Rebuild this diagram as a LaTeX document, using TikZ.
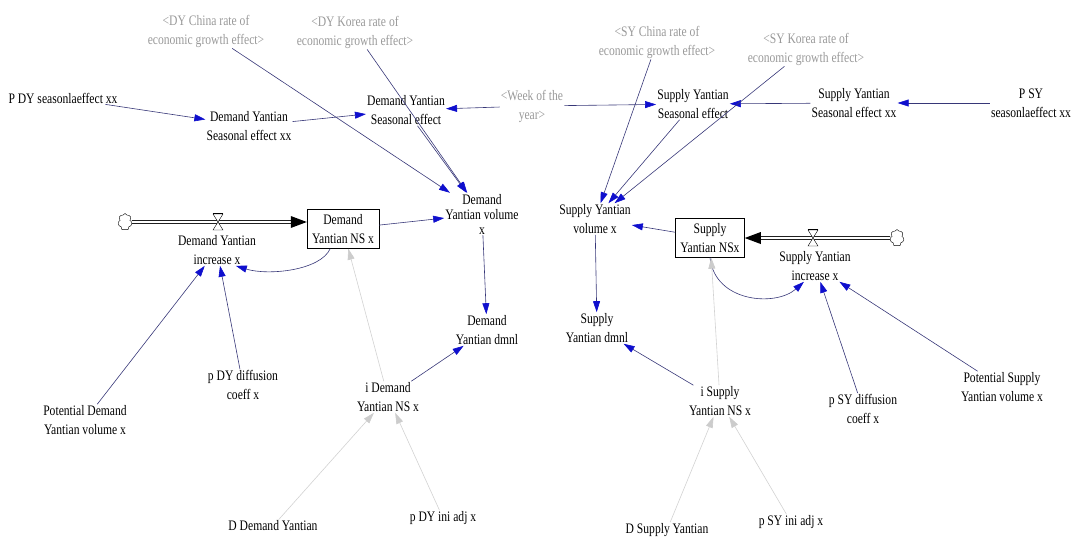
\documentclass[tikz,border=0pt]{standalone}
\usepackage{fontspec}
\setmainfont[FakeStretch=0.8]{Liberation Serif}
\usepackage{xcolor}
\usetikzlibrary{arrows.meta,shapes.symbols}

\definecolor{linkcol}{RGB}{55,55,120}
\definecolor{tipcol}{RGB}{15,15,205}

\begin{document}
\begin{tikzpicture}[x=1pt,y=-1pt,
    var/.style={align=center,inner sep=1pt,font=\fontsize{14.5}{19}\selectfont},
    shadowvar/.style={var,text=gray!80},
    stock/.style={var,draw,inner xsep=5pt,minimum height=39pt},
    link/.style={draw=linkcol,line width=0.6pt,-{Triangle[length=11pt,width=7pt,color=tipcol]}},
    glink/.style={draw=gray!35,line width=0.6pt,-{Triangle[length=11pt,width=7pt,color=gray!40]}},
    pipe/.style={double distance=2.4pt,line width=0.7pt},
    sink/.style={cloud,cloud puffs=7,aspect=0.8,draw,inner sep=0pt,minimum width=14pt,minimum height=17pt}]

    \useasboundingbox (0,0) rectangle (1077,538);

    % Shadow variables
    \node[shadowvar] (dychina) at (206,31) {<DY China rate of\\economic growth effect>};
    \node[shadowvar] (dykorea) at (355,32) {<DY Korea rate of\\economic growth effect>};
    \node[shadowvar] (week) at (532,106) {<Week of the\\year>};
    \node[shadowvar] (sychina) at (657,42) {<SY China rate of\\economic growth effect>};
    \node[shadowvar] (sykorea) at (806,49) {<SY Korea rate of\\economic growth effect>};

    % Demand side
    \node[var] (pdyseason) at (63,98) {P DY seasonlaeffect xx};
    \node[var] (dyseasonxx) at (249,126) {Demand Yantian\\Seasonal effect xx};
    \node[var] (dyseason) at (406,110) {Demand Yantian\\Seasonal effect};
    \node[var,font=\fontsize{14.5}{15}\selectfont] (dyvol) at (482,214) {Demand\\Yantian volume\\x};
    \node[stock] (dyns) at (343,229) {Demand\\Yantian NS x};
    \node[sink] (dycloud) at (125,222) {};
    \coordinate (dyvalve) at (218,222);
    \node[var] (dyflow) at (217,250) {Demand Yantian\\increase x};
    \node[var] (pdydiff) at (243,385) {p DY diffusion\\coeff x};
    \node[var] (potdy) at (85,420) {Potential Demand\\Yantian volume x};
    \node[var] (ddy) at (273,526) {D Demand Yantian};
    \node[var] (idy) at (388,397) {i Demand\\Yantian NS x};
    \node[var] (pdyini) at (443,518) {p DY ini adj x};
    \node[var] (dydmnl) at (487,330) {Demand\\Yantian dmnl};

    % Supply side
    \node[var] (syseason) at (693,104) {Supply Yantian\\Seasonal effect};
    \node[var] (syseasonxx) at (854,103) {Supply Yantian\\Seasonal effect xx};
    \node[var] (psyseason) at (1031,103) {P SY\\seasonlaeffect xx};
    \node[var] (syvol) at (595,219) {Supply Yantian\\volume x};
    \node[stock] (syns) at (710,238) {Supply\\Yantian NSx};
    \node[sink] (sycloud) at (897,238) {};
    \coordinate (syvalve) at (813,238);
    \node[var] (syflow) at (815,266) {Supply Yantian\\increase x};
    \node[var] (sydmnl) at (597,328) {Supply\\Yantian dmnl};
    \node[var] (isy) at (720,401) {i Supply\\Yantian NS x};
    \node[var] (dsy) at (667,530) {D Supply Yantian};
    \node[var] (psyini) at (791,522) {p SY ini adj x};
    \node[var] (psydiff) at (863,409) {p SY diffusion\\coeff x};
    \node[var] (potsy) at (1002,387) {Potential Supply\\Yantian volume x};

    % Flows
    \draw[pipe] (dycloud) -- ([xshift=-15pt]dycloud -| dyns.west);
    \fill (dycloud -| dyns.west) -- ++(-16,-6) -- ++(0,12) -- cycle;
    \draw[pipe] (sycloud) -- ([xshift=15pt]sycloud -| syns.east);
    \fill (sycloud -| syns.east) -- ++(16,-6) -- ++(0,12) -- cycle;

    % Valves
    \draw[fill=white] (dyvalve) -- ++(-5,-8) -- ++(10,0) -- cycle;
    \draw[fill=white] (dyvalve) -- ++(-5,8) -- ++(10,0) -- cycle;
    \draw (dyvalve) ++(-5,-9) -- ++(10,0);
    \draw[fill=white] (syvalve) -- ++(-5,-8) -- ++(10,0) -- cycle;
    \draw[fill=white] (syvalve) -- ++(-5,8) -- ++(10,0) -- cycle;
    \draw (syvalve) ++(-5,-9) -- ++(10,0);

    % Demand links
    \draw[link] (pdyseason) -- (dyseasonxx);
    \draw[link] (dyseasonxx) -- (dyseason);
    \draw[link] (week) -- (dyseason);
    \draw[link] (dychina) -- (dyvol);
    \draw[link] (dykorea) -- (dyvol);
    \draw[link] (dyseason) -- (dyvol);
    \draw[link] (dyns) -- (dyvol);
    \draw[link] (dyvol) -- (dydmnl);
    \draw[link] (dyns.237) .. controls +(-10,22) and +(32,10) .. (dyflow.-40);
    \draw[link] (potdy) -- (dyflow);
    \draw[link] (pdydiff) -- (dyflow);
    \draw[link] (idy) -- (dydmnl);
    \draw[glink] (idy) -- (dyns);
    \draw[glink] (ddy) -- (idy);
    \draw[glink] (pdyini) -- (idy);

    % Supply links
    \draw[link] (psyseason) -- (syseasonxx);
    \draw[link] (syseasonxx) -- (syseason);
    \draw[link] (week) -- (syseason);
    \draw[link] (sychina) -- (syvol);
    \draw[link] (syseason) -- (syvol);
    \draw[link] (sykorea) -- (syvol);
    \draw[link] (syns) -- (syvol);
    \draw[link] (syvol) -- (sydmnl);
    \draw[link] (syns.south) .. controls +(5,45) and +(-28,25) .. (syflow.235);
    \draw[link] (psydiff) -- (syflow);
    \draw[link] (potsy) -- (syflow);
    \draw[link] (isy) -- (sydmnl);
    \draw[glink] (isy) -- (syns);
    \draw[glink] (dsy) -- (isy);
    \draw[glink] (psyini) -- (isy);

\end{tikzpicture}
\end{document}
